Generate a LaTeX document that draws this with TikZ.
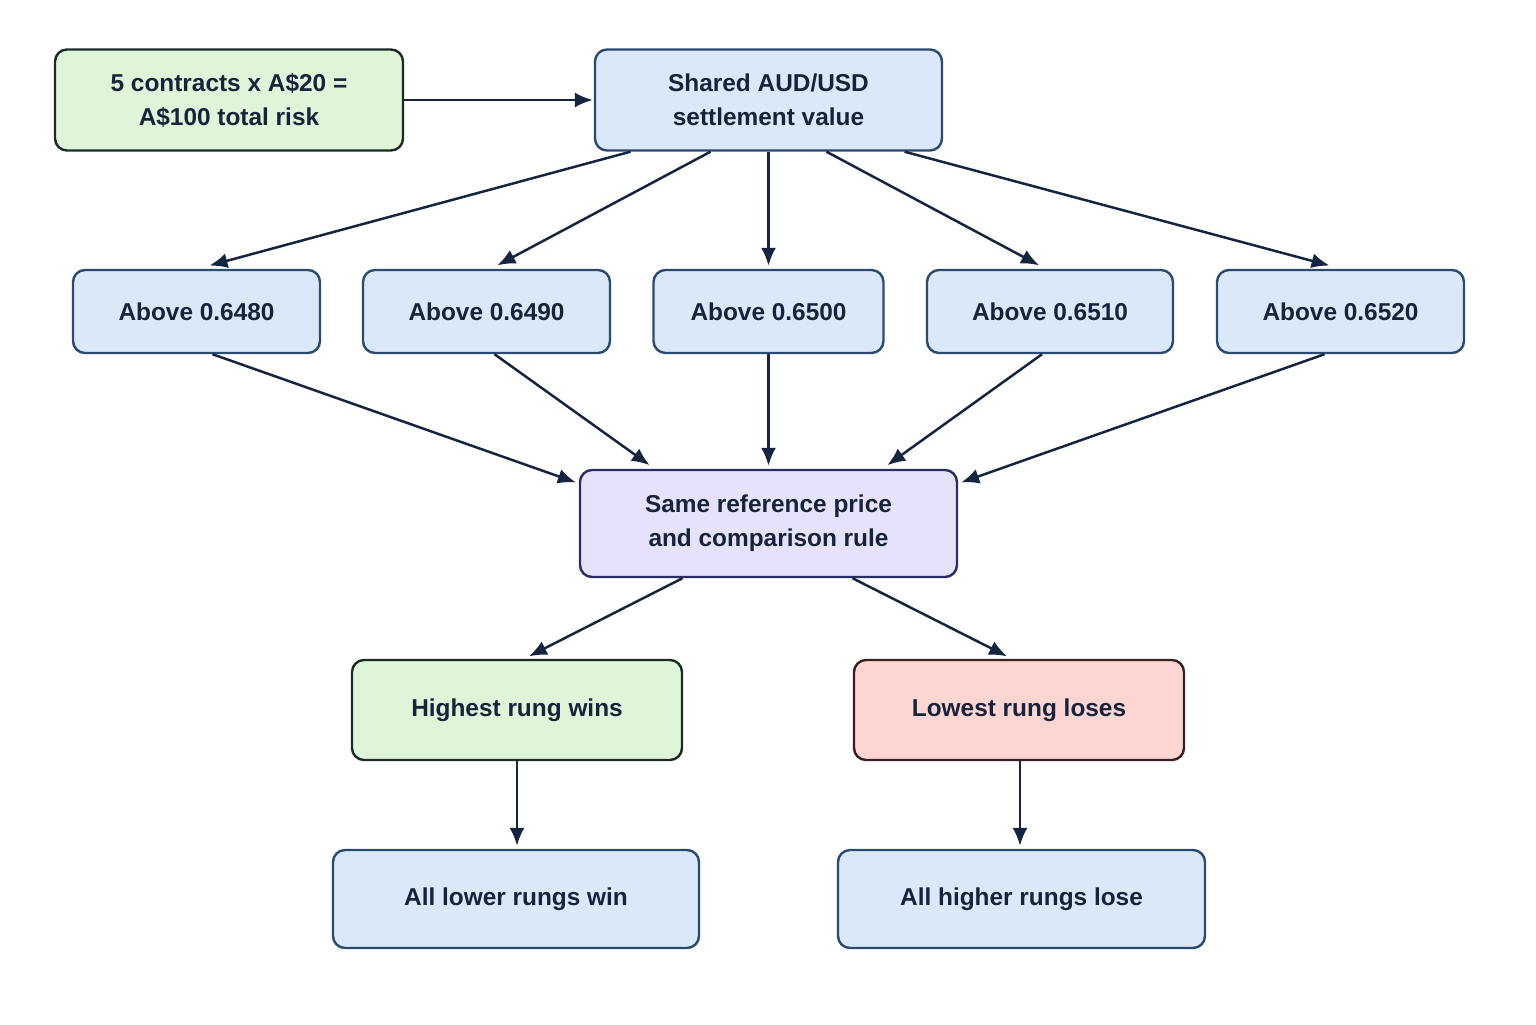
\documentclass[tikz,border=0pt]{standalone}
\usepackage{fontspec}
\setmainfont{Liberation Sans}
\usetikzlibrary{arrows.meta}
\definecolor{arr}{HTML}{15253F}
\definecolor{txt}{HTML}{17233A}
\definecolor{gfill}{HTML}{DFF5D9}
\definecolor{gline}{HTML}{1E2B24}
\definecolor{bfill}{HTML}{DAE8FA}
\definecolor{bline}{HTML}{2B4A70}
\definecolor{pfill}{HTML}{E5E3FB}
\definecolor{pline}{HTML}{2A2C66}
\definecolor{rfill}{HTML}{FDD6D4}
\definecolor{rline}{HTML}{3A1F22}
\tikzset{
  boxbase/.style={rounded corners=6pt, line width=1.2pt, text=txt, align=center,
    font=\fontsize{12.2pt}{17pt}\selectfont\bfseries, inner sep=0pt},
  gbox/.style={boxbase, draw=gline, fill=gfill},
  bbox/.style={boxbase, draw=bline, fill=bfill},
  pbox/.style={boxbase, draw=pline, fill=pfill},
  rbox/.style={boxbase, draw=rline, fill=rfill},
  conn/.style={draw=arr, line width=1.25pt, -{Latex[length=9pt,width=7.5pt]}, shorten >=0.5pt},
}
\begin{document}
\begin{tikzpicture}[x=0.5pt,y=-0.5pt]
\useasboundingbox (0,0) rectangle (1536,1024);
\node[gbox, minimum width=174pt, minimum height=50.5pt] (risk) at (229,100) {5 contracts x A\$20 =\\A\$100 total risk};
\node[bbox, minimum width=173.5pt, minimum height=50.5pt] (shared) at (768.5,100) {Shared AUD/USD\\settlement value};
\node[bbox, minimum width=123.5pt, minimum height=41.5pt] (a1) at (196.5,311.5) {Above 0.6480};
\node[bbox, minimum width=123.5pt, minimum height=41.5pt] (a2) at (486.5,311.5) {Above 0.6490};
\node[bbox, minimum width=115pt, minimum height=41.5pt] (a3) at (768.5,311.5) {Above 0.6500};
\node[bbox, minimum width=123pt, minimum height=41.5pt] (a4) at (1050,311.5) {Above 0.6510};
\node[bbox, minimum width=123.5pt, minimum height=41.5pt] (a5) at (1340.5,311.5) {Above 0.6520};
\node[pbox, minimum width=188.5pt, minimum height=53.5pt] (same) at (768.5,523.5) {Same reference price\\and comparison rule};
\node[gbox, minimum width=165pt, minimum height=50pt] (hi) at (517,710) {Highest rung wins};
\node[rbox, minimum width=165pt, minimum height=50pt] (lo) at (1019,710) {Lowest rung loses};
\node[bbox, minimum width=183pt, minimum height=49pt] (alllow) at (516,899) {All lower rungs win};
\node[bbox, minimum width=183.5pt, minimum height=49pt] (allhigh) at (1021.5,899) {All higher rungs lose};

\draw[conn] (risk.east) -- (shared.west);
\draw[conn] ([xshift=-69pt]shared.south) -- ([xshift=6pt,yshift=1.5pt]a1.north);
\draw[conn] ([xshift=-29pt]shared.south) -- ([xshift=5pt,yshift=1.5pt]a2.north);
\draw[conn] (shared.south) -- ([yshift=1pt]a3.north);
\draw[conn] ([xshift=29pt]shared.south) -- ([xshift=-5pt,yshift=1.5pt]a4.north);
\draw[conn] ([xshift=68pt]shared.south) -- ([xshift=-5pt,yshift=1.5pt]a5.north);

\draw[conn] ([xshift=8pt]a1.south) -- ([xshift=-1pt,yshift=-7pt]same.north west);
\draw[conn] ([xshift=4pt]a2.south) -- ([xshift=-59pt,yshift=1.5pt]same.north);
\draw[conn] (a3.south) -- ([yshift=1pt]same.north);
\draw[conn] ([xshift=-4pt]a4.south) -- ([xshift=59pt,yshift=1.5pt]same.north);
\draw[conn] ([xshift=-8pt]a5.south) -- ([xshift=1pt,yshift=-7pt]same.north east);

\draw[conn] ([xshift=-43pt]same.south) -- ([xshift=5.5pt,yshift=1pt]hi.north);
\draw[conn] ([xshift=42pt]same.south) -- ([xshift=-5.5pt,yshift=1pt]lo.north);
\draw[conn] (hi.south) -- ([yshift=1pt]hi.south |- alllow.north);
\draw[conn] ([xshift=0.5pt]lo.south) -- ([xshift=0.5pt,yshift=1pt]lo.south |- allhigh.north);
\end{tikzpicture}
\end{document}
